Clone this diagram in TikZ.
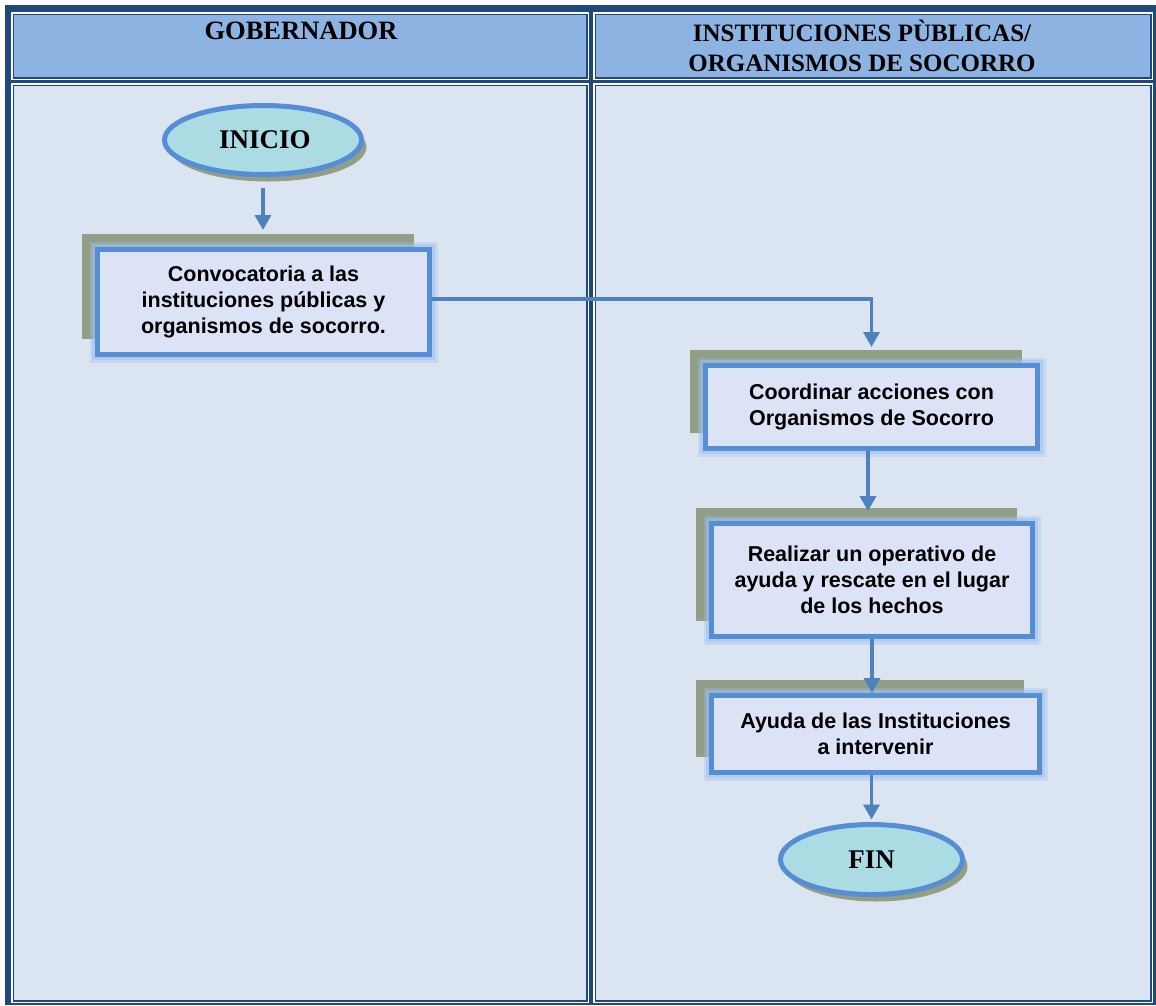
\documentclass[tikz,border=0pt]{standalone}
\usepackage{fontspec}
\setmainfont{Liberation Serif}
\newfontfamily\boxfont{Liberation Sans}
\usetikzlibrary{shapes.geometric,shadows,arrows.meta}

\definecolor{frameblue}{HTML}{1F497D}
\definecolor{headfill}{HTML}{8DB3E2}
\definecolor{cellfill}{HTML}{DBE5F1}
\definecolor{boxedge}{HTML}{558ED5}
\definecolor{glowblue}{HTML}{9DC0EE}
\definecolor{boxfill}{HTML}{DCE3F6}
\definecolor{shadowolive}{HTML}{939E86}
\definecolor{linkblue}{HTML}{4F81BD}
\definecolor{capfill}{HTML}{ABDCE4}

% one table cell: white hairline, dark inner rule, then the cell colour
\newcommand{\tablecell}[5]{%
  \fill[white] (#1,#2) rectangle (#3,#4);
  \fill[frameblue] (#1+1.5,#2+1.5) rectangle (#3-1.5,#4-1.5);
  \fill[#5] (#1+3,#2+3) rectangle (#3-3,#4-3);
}

\tikzset{
  headtext/.style={font=\bfseries\fontsize{26.5}{30}\selectfont, align=center, inner sep=0pt},
  flowbox/.style={rectangle, draw=boxedge, line width=5pt, fill=boxfill,
    inner sep=0pt, align=center,
    font=\boxfont\bfseries\fontsize{21.5}{26}\selectfont,
    general shadow={fill=shadowolive, shadow xshift=-16pt, shadow yshift=16pt},
    preaction={draw=glowblue, line width=16pt, opacity=0.35},
    preaction={draw=glowblue, line width=11pt, opacity=0.5}},
  capsule/.style={ellipse, draw=boxedge, line width=5pt, fill=capfill,
    inner sep=0pt, font=\bfseries\fontsize{27}{30}\selectfont,
    general shadow={fill=shadowolive, shadow xshift=5pt, shadow yshift=-7pt}},
  link/.style={draw=linkblue, line width=3.5pt,
    -{Triangle[width=16pt,length=15pt]}},
}

\begin{document}
\begin{tikzpicture}[x=1pt, y=-1pt]
  \useasboundingbox (0,0) rectangle (1156,1005);
  \fill[white] (0,0) rectangle (1156,1005);

  % outer table frame
  \fill[frameblue] (5,5) rectangle (1156,1005);

  % header row and body row, two lanes
  \tablecell{11}{12}{589}{80}{headfill}
  \tablecell{593}{12}{1153}{80}{headfill}
  \tablecell{11}{83}{589}{1003}{cellfill}
  \tablecell{593}{83}{1153}{1003}{cellfill}

  % lane titles
  \node[headtext] (hgob) at (301,31) {GOBERNADOR};
  \node[headtext, font=\bfseries\fontsize{25}{30}\selectfont] (hins) at (862,46)
    {INSTITUCIONES PÙBLICAS/\\ORGANISMOS DE SOCORRO};

  % flow elements
  \node[capsule, minimum width=197, minimum height=69] (ini) at (263,140) {\hspace*{4pt}INICIO};
  \node[flowbox, minimum width=332, minimum height=105] (conv) at (263.5,302)
    {Convocatoria a las\\instituciones públicas y\\organismos de socorro.};
  \node[flowbox, minimum width=332, minimum height=83] (coord) at (871.5,407)
    {Coordinar acciones con\\Organismos de Socorro};
  \node[flowbox, minimum width=321, minimum height=113] (real) at (872,580)
    {Realizar un operativo de\\ayuda y rescate en el lugar\\de los hechos};
  \node[flowbox, minimum width=328, minimum height=77] (ayuda) at (875.5,734)
    {Ayuda de las Instituciones\\a intervenir};
  \node[capsule, minimum width=182, minimum height=70] (fin) at (871.5,859.5) {FIN};

  % connectors
  \draw[link] ([yshift=-11pt]ini.south) -- ([yshift=17pt]ini.south |- conv.north);
  \draw[link] ([yshift=3pt]conv.east) -| ([yshift=16pt]coord.north);
  \draw[link] ([xshift=-3.5pt]coord.south) -- ([xshift=-4pt,yshift=10pt]real.north);
  \draw[link] (real.south) -- (real.south |- ayuda.north);
  \draw[link] (fin.north |- ayuda.south) -- ([yshift=2.5pt]fin.north);
\end{tikzpicture}
\end{document}
